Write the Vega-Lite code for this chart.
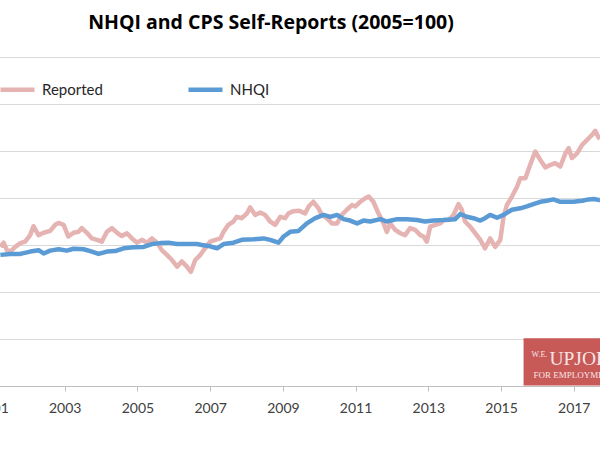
{
  "$schema": "https://vega.github.io/schema/vega-lite/v6.json",
  "width": 608,
  "height": 329,
  "autosize": {"type": "none"},
  "padding": {"left": -8, "top": 57, "right": 0, "bottom": 64},
  "background": "white",
  "title": {
    "text": "NHQI and CPS Self-Reports (2005=100)",
    "font": "Open Sans",
    "fontSize": 19.5,
    "fontWeight": "bold",
    "color": "#000000",
    "anchor": "middle",
    "frame": "group",
    "baseline": "alphabetic",
    "offset": 9,
    "dx": -25
  },
  "config": {
    "view": {"stroke": null},
    "font": "Lato"
  },
  "datasets": {
    "series": [
      {"series": "Reported", "year": 2001.23, "value": 99.6},
      {"series": "Reported", "year": 2001.32, "value": 100.5},
      {"series": "Reported", "year": 2001.41, "value": 98.9},
      {"series": "Reported", "year": 2001.50, "value": 98.6},
      {"series": "Reported", "year": 2001.64, "value": 99.6},
      {"series": "Reported", "year": 2001.78, "value": 100.4},
      {"series": "Reported", "year": 2001.91, "value": 100.7},
      {"series": "Reported", "year": 2002.05, "value": 102.1},
      {"series": "Reported", "year": 2002.14, "value": 104.0},
      {"series": "Reported", "year": 2002.28, "value": 102.1},
      {"series": "Reported", "year": 2002.42, "value": 102.6},
      {"series": "Reported", "year": 2002.60, "value": 103.0},
      {"series": "Reported", "year": 2002.74, "value": 104.3},
      {"series": "Reported", "year": 2002.83, "value": 104.7},
      {"series": "Reported", "year": 2002.97, "value": 104.3},
      {"series": "Reported", "year": 2003.10, "value": 101.8},
      {"series": "Reported", "year": 2003.24, "value": 102.6},
      {"series": "Reported", "year": 2003.38, "value": 102.8},
      {"series": "Reported", "year": 2003.47, "value": 103.6},
      {"series": "Reported", "year": 2003.61, "value": 102.6},
      {"series": "Reported", "year": 2003.75, "value": 101.4},
      {"series": "Reported", "year": 2003.89, "value": 101.1},
      {"series": "Reported", "year": 2004.02, "value": 100.7},
      {"series": "Reported", "year": 2004.16, "value": 102.8},
      {"series": "Reported", "year": 2004.30, "value": 103.6},
      {"series": "Reported", "year": 2004.44, "value": 102.6},
      {"series": "Reported", "year": 2004.57, "value": 101.9},
      {"series": "Reported", "year": 2004.71, "value": 102.5},
      {"series": "Reported", "year": 2004.85, "value": 101.4},
      {"series": "Reported", "year": 2004.99, "value": 100.5},
      {"series": "Reported", "year": 2005.12, "value": 101.1},
      {"series": "Reported", "year": 2005.26, "value": 100.5},
      {"series": "Reported", "year": 2005.40, "value": 101.4},
      {"series": "Reported", "year": 2005.54, "value": 100.5},
      {"series": "Reported", "year": 2005.67, "value": 98.9},
      {"series": "Reported", "year": 2005.81, "value": 97.9},
      {"series": "Reported", "year": 2005.95, "value": 96.8},
      {"series": "Reported", "year": 2006.09, "value": 95.4},
      {"series": "Reported", "year": 2006.22, "value": 96.5},
      {"series": "Reported", "year": 2006.36, "value": 95.4},
      {"series": "Reported", "year": 2006.47, "value": 94.3},
      {"series": "Reported", "year": 2006.59, "value": 96.8},
      {"series": "Reported", "year": 2006.73, "value": 97.9},
      {"series": "Reported", "year": 2006.86, "value": 99.3},
      {"series": "Reported", "year": 2007.00, "value": 100.7},
      {"series": "Reported", "year": 2007.14, "value": 101.1},
      {"series": "Reported", "year": 2007.28, "value": 101.4},
      {"series": "Reported", "year": 2007.37, "value": 102.8},
      {"series": "Reported", "year": 2007.50, "value": 104.3},
      {"series": "Reported", "year": 2007.64, "value": 105.0},
      {"series": "Reported", "year": 2007.73, "value": 106.0},
      {"series": "Reported", "year": 2007.87, "value": 105.7},
      {"series": "Reported", "year": 2008.01, "value": 106.7},
      {"series": "Reported", "year": 2008.10, "value": 108.0},
      {"series": "Reported", "year": 2008.24, "value": 106.4},
      {"series": "Reported", "year": 2008.38, "value": 106.9},
      {"series": "Reported", "year": 2008.51, "value": 106.4},
      {"series": "Reported", "year": 2008.65, "value": 105.0},
      {"series": "Reported", "year": 2008.79, "value": 104.3},
      {"series": "Reported", "year": 2008.93, "value": 106.0},
      {"series": "Reported", "year": 2009.06, "value": 105.7},
      {"series": "Reported", "year": 2009.15, "value": 106.7},
      {"series": "Reported", "year": 2009.29, "value": 107.2},
      {"series": "Reported", "year": 2009.45, "value": 107.3},
      {"series": "Reported", "year": 2009.61, "value": 106.7},
      {"series": "Reported", "year": 2009.71, "value": 108.2},
      {"series": "Reported", "year": 2009.84, "value": 109.2},
      {"series": "Reported", "year": 2009.98, "value": 107.8},
      {"series": "Reported", "year": 2010.07, "value": 106.4},
      {"series": "Reported", "year": 2010.21, "value": 105.7},
      {"series": "Reported", "year": 2010.35, "value": 104.6},
      {"series": "Reported", "year": 2010.49, "value": 104.6},
      {"series": "Reported", "year": 2010.62, "value": 106.4},
      {"series": "Reported", "year": 2010.76, "value": 107.5},
      {"series": "Reported", "year": 2010.90, "value": 108.5},
      {"series": "Reported", "year": 2010.99, "value": 108.2},
      {"series": "Reported", "year": 2011.13, "value": 109.2},
      {"series": "Reported", "year": 2011.26, "value": 109.9},
      {"series": "Reported", "year": 2011.36, "value": 110.3},
      {"series": "Reported", "year": 2011.49, "value": 109.2},
      {"series": "Reported", "year": 2011.63, "value": 106.7},
      {"series": "Reported", "year": 2011.77, "value": 104.6},
      {"series": "Reported", "year": 2011.86, "value": 102.8},
      {"series": "Reported", "year": 2011.95, "value": 104.6},
      {"series": "Reported", "year": 2012.09, "value": 103.2},
      {"series": "Reported", "year": 2012.23, "value": 102.5},
      {"series": "Reported", "year": 2012.36, "value": 102.1},
      {"series": "Reported", "year": 2012.50, "value": 103.6},
      {"series": "Reported", "year": 2012.64, "value": 103.2},
      {"series": "Reported", "year": 2012.78, "value": 102.1},
      {"series": "Reported", "year": 2012.87, "value": 101.8},
      {"series": "Reported", "year": 2012.96, "value": 100.7},
      {"series": "Reported", "year": 2013.05, "value": 103.9},
      {"series": "Reported", "year": 2013.19, "value": 104.3},
      {"series": "Reported", "year": 2013.33, "value": 104.6},
      {"series": "Reported", "year": 2013.42, "value": 105.3},
      {"series": "Reported", "year": 2013.56, "value": 105.3},
      {"series": "Reported", "year": 2013.69, "value": 106.4},
      {"series": "Reported", "year": 2013.83, "value": 108.7},
      {"series": "Reported", "year": 2013.92, "value": 107.5},
      {"series": "Reported", "year": 2014.01, "value": 105.0},
      {"series": "Reported", "year": 2014.15, "value": 103.9},
      {"series": "Reported", "year": 2014.29, "value": 102.5},
      {"series": "Reported", "year": 2014.43, "value": 101.1},
      {"series": "Reported", "year": 2014.56, "value": 99.3},
      {"series": "Reported", "year": 2014.70, "value": 101.4},
      {"series": "Reported", "year": 2014.84, "value": 99.6},
      {"series": "Reported", "year": 2014.98, "value": 101.1},
      {"series": "Reported", "year": 2015.07, "value": 106.0},
      {"series": "Reported", "year": 2015.16, "value": 108.5},
      {"series": "Reported", "year": 2015.30, "value": 110.3},
      {"series": "Reported", "year": 2015.44, "value": 112.4},
      {"series": "Reported", "year": 2015.53, "value": 114.2},
      {"series": "Reported", "year": 2015.67, "value": 114.2},
      {"series": "Reported", "year": 2015.80, "value": 117.0},
      {"series": "Reported", "year": 2015.94, "value": 119.9},
      {"series": "Reported", "year": 2016.08, "value": 118.1},
      {"series": "Reported", "year": 2016.22, "value": 116.5},
      {"series": "Reported", "year": 2016.35, "value": 117.0},
      {"series": "Reported", "year": 2016.49, "value": 117.4},
      {"series": "Reported", "year": 2016.63, "value": 116.7},
      {"series": "Reported", "year": 2016.77, "value": 119.5},
      {"series": "Reported", "year": 2016.86, "value": 120.6},
      {"series": "Reported", "year": 2016.95, "value": 118.5},
      {"series": "Reported", "year": 2017.09, "value": 119.5},
      {"series": "Reported", "year": 2017.23, "value": 121.3},
      {"series": "Reported", "year": 2017.36, "value": 122.3},
      {"series": "Reported", "year": 2017.50, "value": 123.4},
      {"series": "Reported", "year": 2017.59, "value": 124.3},
      {"series": "Reported", "year": 2017.68, "value": 122.9},
      {"series": "Reported", "year": 2017.72, "value": 122.6},
      {"series": "NHQI", "year": 2001.23, "value": 97.9},
      {"series": "NHQI", "year": 2001.50, "value": 98.1},
      {"series": "NHQI", "year": 2001.78, "value": 98.1},
      {"series": "NHQI", "year": 2002.05, "value": 98.6},
      {"series": "NHQI", "year": 2002.28, "value": 98.9},
      {"series": "NHQI", "year": 2002.42, "value": 98.2},
      {"series": "NHQI", "year": 2002.60, "value": 98.8},
      {"series": "NHQI", "year": 2002.83, "value": 99.1},
      {"series": "NHQI", "year": 2003.06, "value": 98.8},
      {"series": "NHQI", "year": 2003.24, "value": 99.2},
      {"series": "NHQI", "year": 2003.52, "value": 99.1},
      {"series": "NHQI", "year": 2003.75, "value": 98.6},
      {"series": "NHQI", "year": 2003.93, "value": 98.1},
      {"series": "NHQI", "year": 2004.16, "value": 98.6},
      {"series": "NHQI", "year": 2004.39, "value": 98.7},
      {"series": "NHQI", "year": 2004.62, "value": 99.3},
      {"series": "NHQI", "year": 2004.89, "value": 99.5},
      {"series": "NHQI", "year": 2005.17, "value": 99.6},
      {"series": "NHQI", "year": 2005.40, "value": 100.2},
      {"series": "NHQI", "year": 2005.63, "value": 100.4},
      {"series": "NHQI", "year": 2005.85, "value": 100.5},
      {"series": "NHQI", "year": 2006.09, "value": 100.2},
      {"series": "NHQI", "year": 2006.36, "value": 100.2},
      {"series": "NHQI", "year": 2006.64, "value": 100.2},
      {"series": "NHQI", "year": 2006.77, "value": 100.0},
      {"series": "NHQI", "year": 2006.95, "value": 99.8},
      {"series": "NHQI", "year": 2007.19, "value": 99.3},
      {"series": "NHQI", "year": 2007.37, "value": 100.2},
      {"series": "NHQI", "year": 2007.64, "value": 100.5},
      {"series": "NHQI", "year": 2007.87, "value": 101.1},
      {"series": "NHQI", "year": 2008.19, "value": 101.2},
      {"series": "NHQI", "year": 2008.47, "value": 101.4},
      {"series": "NHQI", "year": 2008.65, "value": 101.1},
      {"series": "NHQI", "year": 2008.88, "value": 100.5},
      {"series": "NHQI", "year": 2009.02, "value": 101.8},
      {"series": "NHQI", "year": 2009.20, "value": 102.8},
      {"series": "NHQI", "year": 2009.43, "value": 103.0},
      {"series": "NHQI", "year": 2009.66, "value": 104.6},
      {"series": "NHQI", "year": 2009.89, "value": 105.7},
      {"series": "NHQI", "year": 2010.12, "value": 106.4},
      {"series": "NHQI", "year": 2010.30, "value": 106.0},
      {"series": "NHQI", "year": 2010.49, "value": 106.4},
      {"series": "NHQI", "year": 2010.67, "value": 105.5},
      {"series": "NHQI", "year": 2010.85, "value": 105.2},
      {"series": "NHQI", "year": 2011.04, "value": 104.6},
      {"series": "NHQI", "year": 2011.22, "value": 105.2},
      {"series": "NHQI", "year": 2011.40, "value": 105.0},
      {"series": "NHQI", "year": 2011.68, "value": 105.5},
      {"series": "NHQI", "year": 2011.86, "value": 105.0},
      {"series": "NHQI", "year": 2012.14, "value": 105.5},
      {"series": "NHQI", "year": 2012.41, "value": 105.5},
      {"series": "NHQI", "year": 2012.69, "value": 105.3},
      {"series": "NHQI", "year": 2012.91, "value": 105.0},
      {"series": "NHQI", "year": 2013.14, "value": 105.2},
      {"series": "NHQI", "year": 2013.42, "value": 105.3},
      {"series": "NHQI", "year": 2013.74, "value": 105.5},
      {"series": "NHQI", "year": 2013.88, "value": 106.6},
      {"series": "NHQI", "year": 2014.06, "value": 106.0},
      {"series": "NHQI", "year": 2014.24, "value": 105.7},
      {"series": "NHQI", "year": 2014.43, "value": 105.2},
      {"series": "NHQI", "year": 2014.56, "value": 105.7},
      {"series": "NHQI", "year": 2014.70, "value": 106.4},
      {"series": "NHQI", "year": 2014.89, "value": 105.8},
      {"series": "NHQI", "year": 2015.07, "value": 106.4},
      {"series": "NHQI", "year": 2015.30, "value": 107.5},
      {"series": "NHQI", "year": 2015.53, "value": 107.8},
      {"series": "NHQI", "year": 2015.71, "value": 108.2},
      {"series": "NHQI", "year": 2015.89, "value": 108.7},
      {"series": "NHQI", "year": 2016.08, "value": 109.2},
      {"series": "NHQI", "year": 2016.26, "value": 109.4},
      {"series": "NHQI", "year": 2016.44, "value": 109.7},
      {"series": "NHQI", "year": 2016.63, "value": 109.2},
      {"series": "NHQI", "year": 2016.81, "value": 109.2},
      {"series": "NHQI", "year": 2016.99, "value": 109.2},
      {"series": "NHQI", "year": 2017.23, "value": 109.4},
      {"series": "NHQI", "year": 2017.41, "value": 109.7},
      {"series": "NHQI", "year": 2017.55, "value": 109.8},
      {"series": "NHQI", "year": 2017.68, "value": 109.6},
      {"series": "NHQI", "year": 2017.72, "value": 109.6}
    ]
  },
  "layer": [
    {
      "data": {"name": "series"},
      "transform": [{"filter": "datum.series == 'Reported'"}],
      "mark": {"type": "line", "strokeWidth": 4.5, "strokeJoin": "round"},
      "encoding": {
        "x": {
          "field": "year",
          "type": "quantitative",
          "scale": {"domain": [2001, 2017.722], "nice": false, "zero": false},
          "axis": {
            "title": null,
            "grid": false,
            "values": [2001, 2002, 2003, 2004, 2005, 2006, 2007, 2008, 2009, 2010, 2011, 2012, 2013, 2014, 2015, 2016, 2017],
            "labelExpr": "datum.value % 2 == 1 ? format(datum.value, 'd') : ''",
            "labelFont": "Lato",
            "labelFontSize": 14,
            "labelColor": "#404040",
            "labelPadding": 10,
            "labelFlush": false,
            "labelOverlap": false,
            "labelBound": false,
            "domainColor": "#bfbfbf",
            "domainWidth": 1,
            "tickColor": "#bfbfbf",
            "tickSize": 5,
            "tickWidth": 1
          }
        },
        "y": {
          "field": "value",
          "type": "quantitative",
          "scale": {"domain": [70, 140], "nice": false, "zero": false},
          "axis": {
            "title": null,
            "labels": false,
            "ticks": false,
            "domain": false,
            "grid": true,
            "gridColor": "#d9d9d9",
            "gridWidth": 1,
            "values": [70, 80, 90, 100, 110, 120, 130, 140]
          }
        },
        "color": {
          "field": "series",
          "type": "nominal",
          "scale": {"domain": ["Reported", "NHQI"], "range": ["#e6b3b3", "#5b9bd5"]},
          "legend": {
            "title": null,
            "orient": "none",
            "direction": "horizontal",
            "legendX": 6,
            "legendY": 13,
            "padding": 0,
            "symbolType": "stroke",
            "symbolSize": 1156,
            "symbolStrokeWidth": 4.5,
            "labelFont": "Lato",
            "labelFontSize": 15,
            "labelColor": "#262626",
            "labelOffset": 5,
            "columnPadding": 76
          }
        }
      }
    },
    {
      "data": {"name": "series"},
      "transform": [{"filter": "datum.series == 'NHQI'"}],
      "mark": {"type": "line", "strokeWidth": 4.5, "strokeJoin": "round"},
      "encoding": {
        "x": {"field": "year", "type": "quantitative"},
        "y": {"field": "value", "type": "quantitative"},
        "color": {"field": "series", "type": "nominal"}
      }
    },
    {
      "data": {"values": [{"label": "logo"}]},
      "mark": {"type": "rect", "color": "#c4504e", "opacity": 0.95, "clip": true},
      "encoding": {
        "x": {"datum": 2015.62, "type": "quantitative"},
        "x2": {"datum": 2017.9},
        "y": {"datum": 70.1, "type": "quantitative"},
        "y2": {"datum": 80.15}
      }
    },
    {
      "data": {"values": [{"label": "W.E."}]},
      "mark": {"type": "text", "font": "Liberation Serif", "fontSize": 8, "color": "#f8e6e6", "align": "left", "baseline": "top"},
      "encoding": {
        "x": {"datum": 2015.84, "type": "quantitative"},
        "y": {"datum": 77.5, "type": "quantitative"},
        "text": {"field": "label"}
      }
    },
    {
      "data": {"values": [{"label": "UPJOHN INSTITUTE"}]},
      "mark": {"type": "text", "font": "Liberation Serif", "fontSize": 19.5, "color": "#f8e6e6", "align": "left", "baseline": "alphabetic"},
      "encoding": {
        "x": {"datum": 2016.33, "type": "quantitative"},
        "y": {"datum": 74.5, "type": "quantitative"},
        "text": {"field": "label"}
      }
    },
    {
      "data": {"values": [{"label": "FOR EMPLOYMENT RESEARCH"}]},
      "mark": {"type": "text", "font": "Liberation Serif", "fontSize": 9, "color": "#f8e6e6", "align": "left", "baseline": "alphabetic"},
      "encoding": {
        "x": {"datum": 2015.89, "type": "quantitative"},
        "y": {"datum": 71.7, "type": "quantitative"},
        "text": {"field": "label"}
      }
    }
  ]
}
